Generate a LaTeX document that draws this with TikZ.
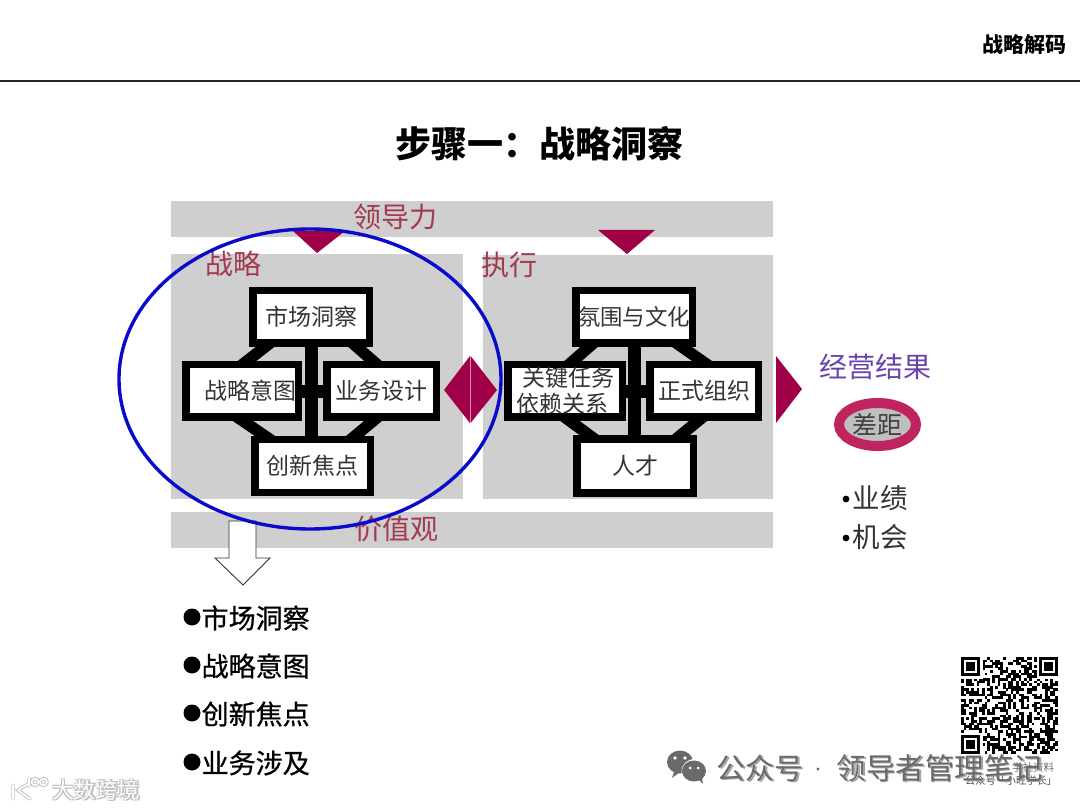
\documentclass[tikz,border=0pt]{standalone}
\usepackage{fontspec}
\setmainfont{Noto Sans CJK SC}
\newfontfamily\listfont[FakeBold=0.7]{Noto Sans CJK SC}
\usetikzlibrary{calc,shapes.geometric}
\pgfdeclarelayer{back}\pgfdeclarelayer{mid}\pgfsetlayers{back,mid,main}
\definecolor{panelgray}{HTML}{CFCFCF}
\definecolor{wine}{HTML}{A00048}
\definecolor{labelred}{HTML}{A23A4E}
\definecolor{purp}{HTML}{6B43AE}
\definecolor{ringred}{HTML}{C0245F}
\definecolor{bluering}{HTML}{0A0ACC}
\definecolor{wm}{HTML}{6A6A6A}
\newcommand{\fs}[1]{\fontsize{#1pt}{#1pt}\selectfont}
\tikzset{
 x=1pt,y=-1pt,
 panel/.style={fill=panelgray,draw=none},
 pointer/.style={fill=wine,draw=none},
 boxnode/.style={draw=black,fill=white,line width=7.5pt,inner sep=0pt,outer sep=0pt,font=\fs{23},text=black!80},
 link/.style={line width=11.5pt,black},
 flat/.style={line width=13pt,black},
 tag/.style={font=\fs{28},text=labelred,inner sep=0pt},
 listitem/.style={font=\listfont\fs{27},anchor=west,inner sep=0pt,text=black},
 listdot/.style={fill=black,draw=none},
}
\begin{document}
\begin{tikzpicture}
\useasboundingbox (0,0) rectangle (1080,810);
% panels
\begin{pgfonlayer}{back}
\fill[white] (0,0) rectangle (1080,810);
\fill[panel] (171,201) rectangle (773,237);
\fill[panel] (171,254) rectangle (463,499);
\fill[panel] (483,255) rectangle (773,499);
\fill[panel] (171,512) rectangle (773,548);
\end{pgfonlayer}
% header
\node[font=\fs{21}\bfseries,inner sep=0pt] (hdr) at (1024.5,45) {战略解码};
\draw[line width=1.4pt,black!85] (0,81) coordinate (ruleL) -- (1080,81) coordinate (ruleR);
\node[font=\fs{36}\bfseries,inner sep=0pt] (title) at (539.5,144) {步骤一：战略洞察};
% pointers
\fill[pointer] (293,231) -- (345,231) -- (317,253) -- cycle;
\fill[pointer] (598,230) -- (655,230) -- (627,254) -- cycle;
\fill[pointer] (470,356) -- (444,390) -- (470,423) -- cycle;
\fill[pointer] (470.6,356) -- (497,390) -- (470.6,423) -- cycle;
\fill[pointer] (776,356) -- (802,389) -- (776,423) -- cycle;
% labels
\node[tag] (lead) at (395,217) {领导力};
\node[tag] (strat) at (233,264) {战略};
\node[tag] (exec) at (509,265) {执行};
\node[tag] (vals) at (396,529) {价值观};
% strategy boxes
\node[boxnode,minimum width=116.5pt,minimum height=52.5pt] (mk) at (311,317) {市场洞察};
\node[boxnode,minimum width=112.5pt,minimum height=52.5pt] (si) at (242,391) {\hspace*{16pt}战略意图};
\node[boxnode,minimum width=109.5pt,minimum height=52.5pt] (bd) at (381.5,391) {业务设计};
\node[boxnode,minimum width=115.5pt,minimum height=52.5pt] (inn) at (312.5,466) {创新焦点};
% execution boxes
\node[boxnode,minimum width=116.5pt,minimum height=52.5pt] (cu) at (634,317) {\fs{22.4}氛围与文化};
\node[boxnode,minimum width=114.5pt,minimum height=52.5pt,align=left] (tk) at (565,391) {\hspace*{6pt}关键任务\\[3pt]依赖关系};
\node[boxnode,minimum width=108.5pt,minimum height=52.5pt] (og) at (704,391) {正式组织};
\node[boxnode,minimum width=116.5pt,minimum height=53.5pt] (ta) at (635,466) {人才};
% connectors
\begin{pgfonlayer}{mid}
\draw[flat] ($(mk.south)+(0,-4)$) -- ($(mk.south)+(0,94)$) coordinate (v1);
\draw[flat] ($(si.east)+(-2,1)$) -- ($(bd.west)+(2,1)$);
\draw[link] ($(mk.south west)+(21.25,-3.25)$) -- ($(si.north)+(-4,3.25)$);
\draw[link] ($(mk.south east)+(-20.25,-3.25)$) -- ($(bd.north)+(-0.5,3.25)$);
\draw[link] ($(si.south)+(-10,-3.75)$) -- ($(inn.north west)+(21.25,3.75)$);
\draw[link] ($(bd.south)+(0.5,-3.75)$) -- ($(inn.north east)+(-24.25,3.75)$);
\draw[flat] (cu.south) -- ($(cu.south)+(0,92)$) coordinate (v2);
\draw[flat] ($(tk.east)+(-2,1)$) -- ($(og.west)+(2,1)$);
\draw[link] ($(cu.south west)+(21.25,-3.25)$) -- ($(tk.north)+(0,3.25)$);
\draw[link] ($(cu.south east)+(-20.25,-3.25)$) -- ($(og.north)+(8,3.25)$);
\draw[link] ($(tk.south)+(-4.5,-3.25)$) -- ($(ta.north west)+(21.75,2.75)$);
\draw[link] ($(og.south)+(2.5,-3.25)$) -- ($(ta.north east)+(-20.75,2.75)$);
\end{pgfonlayer}
% hollow arrow
\draw[black!80,fill=white,line width=0.9pt] (229,521) -- (256,521) -- (256,558) -- (270,558) -- (243,585) -- (215,558) -- (229,558) -- cycle;
% blue ring
\draw[bluering,line width=3.4pt] (310,379) ellipse [x radius=191,y radius=150];
% results
\node[font=\fs{28},text=purp,inner sep=0pt] (res) at (875,367) {经营结果};
\node[draw=ringred,fill=black!25,line width=10pt,ellipse,inner sep=0pt,minimum width=77pt,minimum height=43pt,font=\fs{25},text=black!75] (gap) at (877.5,424.5) {差距};
\fill (846,499) circle (3.4);
\node[font=\fs{27.5},inner sep=0pt,text=black!80] (yj) at (880,498) {业绩};
\fill (846,538) circle (3.4);
\node[font=\fs{27.5},inner sep=0pt,text=black!80] (jh) at (880,537) {机会};
% list
\foreach \y/\t/\n in {618/市场洞察/a,666/战略意图/b,714/创新焦点/c,763/业务涉及/d}{
 \fill[listdot] (192,\y-1) circle (8.5);
 \node[listitem] (l\n) at (201.5,\y) {\t};
}
% QR
\begin{scope}[shift={(961,657)}]
\pgfmathsetseed{1234}
\foreach \i in {0,...,36}{\foreach \j in {0,...,36}{
 \pgfmathparse{rnd<0.5?1:0}
 \ifnum\pgfmathresult=1 \fill[black] (\i*2.62,\j*2.62) rectangle ++(2.7,2.7);\fi
}}
\foreach \p/\q in {0/0,78/0,0/78}{
 \begin{scope}[shift={(\p,\q)}]
 \fill[white] (-2,-2) rectangle (21.5,21.5);
 \fill[black] (0,0) rectangle (19,19);
 \fill[white] (2.7,2.7) rectangle (16.3,16.3);
 \fill[black] (5.4,5.4) rectangle (13.6,13.6);
 \end{scope}}
\end{scope}
% watermarks
\fill[white] (961,755) rectangle (1060,790);
\node[font=\fs{10.5},text=black!60,inner sep=0pt] (sm1) at (1033,767) {学社资料};
\node[font=\fs{10.2},text=black!70,inner sep=0pt] (sm2) at (1011,781) {公众号「小旺学长」};
\fill[wm] (680,762) ellipse [x radius=13,y radius=11.5];
\fill[wm] (674,772) -- (672,778) -- (680,772) -- cycle;
\fill[white] (695,771) ellipse [x radius=13.5,y radius=12];
\fill[wm] (694,771) ellipse [x radius=12,y radius=10.5];
\fill[wm] (698,779) -- (703,784) -- (702,778) -- cycle;
\fill[white] (675,758) circle (1.8) (685,758) circle (1.8) (690,768) circle (1.5) (698,768) circle (1.5);
\node[font=\fs{29},text=black!35,inner sep=0pt] at (761.5,769.5) {公众号};
\node[font=\fs{29},text=wm,inner sep=0pt] (wma) at (760,768) {公众号};
\fill[wm] (818,769) circle (1.6);
\node[font=\fs{29.5},text=black!35,inner sep=0pt] at (941.5,769.5) {领导者管理笔记};
\node[font=\fs{29.5},text=wm,inner sep=0pt] (wmb) at (940,768) {领导者管理笔记};
\foreach \dx/\dy in {-1/-1,1/-1,-1/1,1/1}{
 \node[font=\fs{22},text=black!25,inner sep=0pt] at (96+\dx,790+\dy) {大数跨境};
}
\node[font=\fs{22},text=white,inner sep=0pt] (bm) at (96,790) {大数跨境};
\draw[black!25,line width=3.4pt,line cap=round] (13,785) -- (13,799) (28,784) -- (18,790) -- (30,799) (29,778) -- (29,786) (35,782) circle (3.5) (43.5,782) circle (3.5);
\draw[white,line width=1.6pt,line cap=round] (13,785) -- (13,799) (28,784) -- (18,790) -- (30,799) (29,778) -- (29,786) (35,782) circle (3.5) (43.5,782) circle (3.5);
\end{tikzpicture}
\end{document}
